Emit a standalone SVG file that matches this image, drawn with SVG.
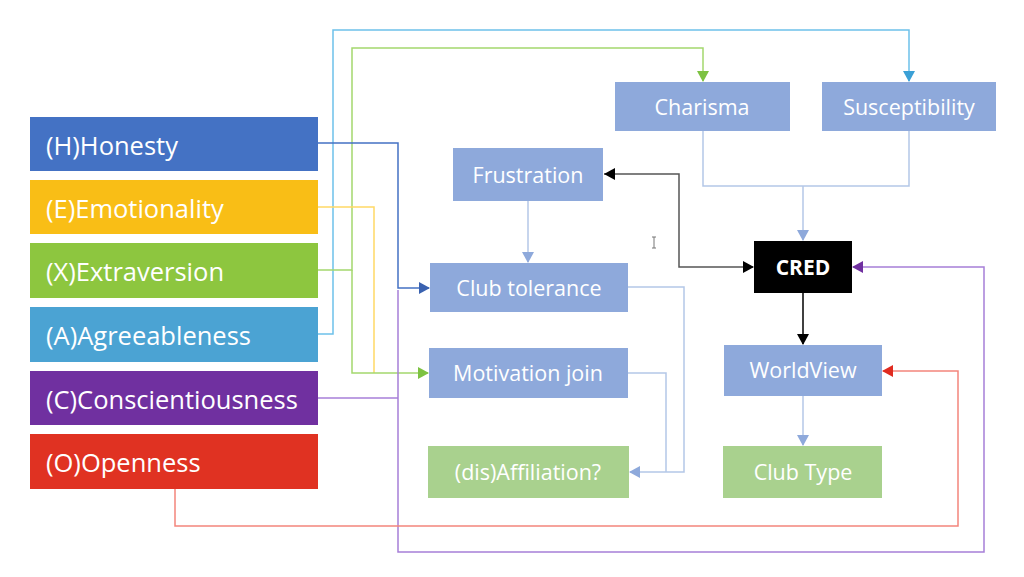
<svg xmlns="http://www.w3.org/2000/svg" width="1024" height="577" viewBox="0 0 1024 577">
<style>
.t{font-family:"Open Sans","Liberation Sans",sans-serif;fill:#fff}
.big{font-size:25.5px}
.mid{font-size:21.5px}
.c{fill:none;stroke-width:1.5}
</style>
<defs>
<marker id="aG" markerWidth="12" markerHeight="12" refX="10" refY="6" orient="auto" markerUnits="userSpaceOnUse"><path d="M0,0 L11,6 L0,12 Z" fill="#7DC242"/></marker>
<marker id="aA" markerWidth="12" markerHeight="12" refX="10" refY="6" orient="auto" markerUnits="userSpaceOnUse"><path d="M0,0 L11,6 L0,12 Z" fill="#3BA0D6"/></marker>
<marker id="aH" markerWidth="12" markerHeight="12" refX="10" refY="6" orient="auto" markerUnits="userSpaceOnUse"><path d="M0,0 L11,6 L0,12 Z" fill="#3A62B0"/></marker>
<marker id="aP" markerWidth="12" markerHeight="12" refX="10" refY="6" orient="auto" markerUnits="userSpaceOnUse"><path d="M0,0 L11,6 L0,12 Z" fill="#8EA9DB"/></marker>
<marker id="aK" markerWidth="12" markerHeight="12" refX="10" refY="6" orient="auto" markerUnits="userSpaceOnUse"><path d="M0,0 L11,6 L0,12 Z" fill="#000"/></marker>
<marker id="aKs" markerWidth="12" markerHeight="12" refX="1" refY="6" orient="auto" markerUnits="userSpaceOnUse"><path d="M12,0 L1,6 L12,12 Z" fill="#000"/></marker>
<marker id="aV" markerWidth="12" markerHeight="12" refX="10" refY="6" orient="auto" markerUnits="userSpaceOnUse"><path d="M0,0 L11,6 L0,12 Z" fill="#7030A0"/></marker>
<marker id="aR" markerWidth="12" markerHeight="12" refX="10" refY="6" orient="auto" markerUnits="userSpaceOnUse"><path d="M0,0 L11,6 L0,12 Z" fill="#E02B20"/></marker>
</defs>
<rect width="1024" height="577" fill="#fff"/>

<g id="connectors">
<path class="c" stroke="#6EC1EA" d="M318,334 H333 V30 H909 V81" marker-end="url(#aA)"/>
<path class="c" stroke="#A4D86E" d="M318,270 H352 V48 H703 V81" marker-end="url(#aG)"/>
<path class="c" stroke="#FFD966" d="M318,207 H374 V373"/>
<path class="c" stroke="#A4D86E" d="M352,270 V373 H428" marker-end="url(#aG)"/>
<path class="c" stroke="#4472C4" d="M318,143 H398 V288 H429" marker-end="url(#aH)"/>
<path class="c" stroke="#A77FD8" d="M318,398 H398"/>
<path class="c" stroke="#A77FD8" d="M398,290 V552 H984 V267 H853" marker-end="url(#aV)"/>
<path class="c" stroke="#F4857C" d="M175,489 V526 H958 V371 H883" marker-end="url(#aR)"/>
<path class="c" stroke="#B4C7E7" d="M703,131 V186 H909 V131"/>
<path class="c" stroke="#B4C7E7" d="M803,186 V240" marker-end="url(#aP)"/>
<path class="c" stroke="#B4C7E7" d="M528,201 V262" marker-end="url(#aP)"/>
<path class="c" stroke="#555" d="M604,174 H679 V267 H753" marker-start="url(#aKs)" marker-end="url(#aK)"/>
<path class="c" stroke="#000" d="M803,293 V344" marker-end="url(#aK)"/>
<path class="c" stroke="#B4C7E7" d="M803,396 V445" marker-end="url(#aP)"/>
<path class="c" stroke="#B4C7E7" d="M628,287 H684 V472 H630" marker-end="url(#aP)"/>
<path class="c" stroke="#B4C7E7" d="M628,373 H666 V472"/>
</g>

<g id="honesty"><rect x="30" y="117" width="288" height="54" fill="#4472C4"/><text class="t big" x="46" y="155">(H)Honesty</text></g>
<g id="emotionality"><rect x="30" y="180" width="288" height="54" fill="#F9BE16"/><text class="t big" x="46" y="218">(E)Emotionality</text></g>
<g id="extraversion"><rect x="30" y="243" width="288" height="55" fill="#8DC63F"/><text class="t big" x="46" y="281">(X)Extraversion</text></g>
<g id="agreeableness"><rect x="30" y="307" width="288" height="55" fill="#4BA3D3"/><text class="t big" x="46" y="345">(A)Agreeableness</text></g>
<g id="conscientiousness"><rect x="30" y="371" width="288" height="54" fill="#7030A0"/><text class="t big" x="46" y="409">(C)Conscientiousness</text></g>
<g id="openness"><rect x="30" y="434" width="288" height="55" fill="#E03222"/><text class="t big" x="46" y="472">(O)Openness</text></g>

<g id="charisma"><rect x="615" y="82" width="175" height="49" fill="#8EA9DB"/><text class="t mid" x="702" y="115" text-anchor="middle">Charisma</text></g>
<g id="susceptibility"><rect x="822" y="82" width="174" height="49" fill="#8EA9DB"/><text class="t mid" x="909" y="115" text-anchor="middle">Susceptibility</text></g>
<g id="frustration"><rect x="453" y="148" width="150" height="53" fill="#8EA9DB"/><text class="t mid" x="528" y="183" text-anchor="middle">Frustration</text></g>
<g id="clubtolerance"><rect x="430" y="263" width="198" height="49" fill="#8EA9DB"/><text class="t mid" x="529" y="296" text-anchor="middle">Club tolerance</text></g>
<g id="motivationjoin"><rect x="429" y="348" width="199" height="50" fill="#8EA9DB"/><text class="t mid" x="528" y="381" text-anchor="middle">Motivation join</text></g>
<g id="affiliation"><rect x="428" y="446" width="201" height="52" fill="#A9D18E"/><text class="t mid" x="528" y="480" text-anchor="middle">(dis)Affiliation?</text></g>
<g id="cred"><rect x="754" y="241" width="98" height="52" fill="#000"/><text class="t" x="803" y="275" text-anchor="middle" font-size="21" font-weight="bold">CRED</text></g>
<g id="worldview"><rect x="724" y="345" width="158" height="51" fill="#8EA9DB"/><text class="t mid" x="803" y="378" text-anchor="middle">WorldView</text></g>
<g id="clubtype"><rect x="723" y="446" width="159" height="52" fill="#A9D18E"/><text class="t mid" x="803" y="480" text-anchor="middle">Club Type</text></g>

<path d="M652,237 H656 M654,237 V248 M652,248 H656" stroke="#777" stroke-width="1" fill="none"/>
</svg>
